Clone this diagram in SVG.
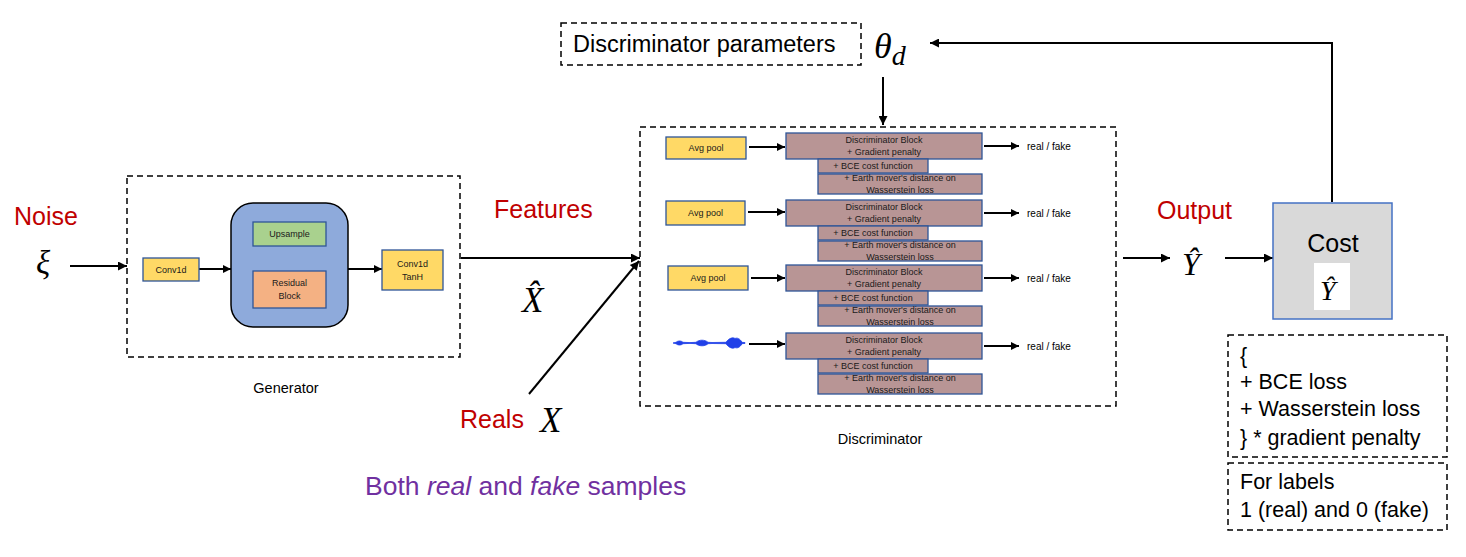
<svg xmlns="http://www.w3.org/2000/svg" width="1466" height="557" viewBox="0 0 1466 557">
<defs>
<marker id="ah" viewBox="0 0 10 10" refX="10" refY="5" markerWidth="11" markerHeight="9" markerUnits="userSpaceOnUse" orient="auto"><path d="M0,0 L10,5 L0,10 z" fill="#000"/></marker>
<marker id="ahs" viewBox="0 0 10 10" refX="10" refY="5" markerWidth="9" markerHeight="8" markerUnits="userSpaceOnUse" orient="auto"><path d="M0,0 L10,5 L0,10 z" fill="#000"/></marker>
<g id="row">
<rect x="786" y="0" width="196" height="26" class="blk"/>
<rect x="818" y="26" width="110" height="14" class="blk"/>
<rect x="818" y="41" width="164" height="20" class="blk"/>
<text x="884" y="9.5" class="sm" text-anchor="middle">Discriminator Block</text>
<text x="884" y="21.5" class="sm" text-anchor="middle">+ Gradient penalty</text>
<text x="873" y="36" class="sm" text-anchor="middle">+ BCE cost function</text>
<text x="900" y="48" class="sm" text-anchor="middle">+ Earth mover's distance on</text>
<text x="900" y="59.5" class="sm" text-anchor="middle">Wasserstein loss</text>
<line x1="984" y1="13" x2="1019" y2="13" class="ar2" marker-end="url(#ahs)"/>
<text x="1027" y="17" class="rf">real / fake</text>
</g>
</defs>
<style>
.dash{fill:none;stroke:#000;stroke-width:1.5;stroke-dasharray:6 4}
.blk{fill:#b89595;stroke:#2f5597;stroke-width:1.3}
.yel{fill:#ffd966;stroke:#2f5597;stroke-width:1.3}
.sm{font-family:"Liberation Sans",Arial,sans-serif;font-size:9px;fill:#1a1a1a}
.rf{font-family:"Liberation Sans",Arial,sans-serif;font-size:10px;fill:#000}
.ar{fill:none;stroke:#000;stroke-width:2}
.ar2{fill:none;stroke:#000;stroke-width:2.2}
.red{font-family:"Liberation Sans",Arial,sans-serif;font-size:25px;fill:#c00000}
.lbl{font-family:"Liberation Sans",Arial,sans-serif;font-size:14.5px;fill:#000}
.txt{font-family:"Liberation Sans",Arial,sans-serif;font-size:21.5px;fill:#000}
.math{font-family:"Liberation Serif","Times New Roman",serif;font-style:italic;fill:#000}
</style>
<rect width="1466" height="557" fill="#fff"/>

<g id="connectors">
<line x1="70" y1="266" x2="127" y2="266" class="ar" marker-end="url(#ah)"/>
<line x1="199" y1="269" x2="231" y2="269" class="ar" marker-end="url(#ahs)"/>
<line x1="348" y1="269" x2="382" y2="269" class="ar" marker-end="url(#ahs)"/>
<line x1="461" y1="258" x2="640" y2="258" class="ar" marker-end="url(#ah)"/>
<line x1="529" y1="394" x2="639" y2="261" class="ar" marker-end="url(#ah)"/>
<line x1="1123" y1="258" x2="1170" y2="258" class="ar" marker-end="url(#ah)"/>
<line x1="1225" y1="258" x2="1273" y2="258" class="ar" marker-end="url(#ah)"/>
<polyline points="1332,202 1332,43 930,43" class="ar" marker-end="url(#ah)"/>
<line x1="883" y1="77" x2="883" y2="125" class="ar" marker-end="url(#ah)"/>
</g>

<g id="noise">
<text x="14" y="225" class="red" font-size="26">Noise</text>
<text x="36" y="274" class="math" font-size="33">ξ</text>
</g>

<g id="generator">
<rect x="127" y="176" width="333" height="181" class="dash"/>
<rect x="231" y="203" width="117" height="124" rx="22" fill="#8eaadb" stroke="#000" stroke-width="1.5"/>
<rect x="143" y="258" width="56" height="23" class="yel"/>
<text x="171" y="273" class="sm" text-anchor="middle">Conv1d</text>
<rect x="253" y="222" width="73" height="24" fill="#a9d18e" stroke="#2f5597" stroke-width="1.3"/>
<text x="289.5" y="237" class="sm" text-anchor="middle">Upsample</text>
<rect x="253" y="271" width="73" height="37" fill="#f4b183" stroke="#2f5597" stroke-width="1.3"/>
<text x="289.5" y="286" class="sm" text-anchor="middle">Residual</text>
<text x="289.5" y="298.5" class="sm" text-anchor="middle">Block</text>
<rect x="382" y="250" width="61" height="40" class="yel"/>
<text x="412.5" y="267" class="sm" text-anchor="middle">Conv1d</text>
<text x="412.5" y="280" class="sm" text-anchor="middle">TanH</text>
<text x="286" y="393" class="lbl" text-anchor="middle">Generator</text>
</g>

<g id="features">
<text x="494" y="218" class="red" font-size="26">Features</text>
<text x="522" y="312" class="math" font-size="35">X&#x302;</text>
</g>

<g id="reals">
<text x="460" y="428" class="red">Reals</text>
<text x="540" y="432" class="math" font-size="35">X</text>
</g>

<g id="both">
<text x="365" y="495" font-family="'Liberation Sans',Arial,sans-serif" font-size="26.5" fill="#7030a0">Both <tspan font-style="italic">real</tspan> and <tspan font-style="italic">fake</tspan> samples</text>
</g>

<g id="params">
<rect x="561" y="23" width="300" height="42" class="dash"/>
<text x="573" y="52" font-family="'Liberation Sans',Arial,sans-serif" font-size="23.5" fill="#000">Discriminator parameters</text>
<text x="874" y="58" class="math" font-size="36">θ<tspan font-size="28" dy="7">d</tspan></text>
</g>

<g id="discriminator">
<rect x="640" y="127" width="476" height="279" class="dash"/>
<rect x="666" y="137" width="80" height="22" class="yel"/>
<text x="706" y="151" class="sm" text-anchor="middle">Avg pool</text>
<line x1="749" y1="147" x2="785" y2="147" class="ar2" marker-end="url(#ahs)"/>
<use href="#row" x="0" y="133"/>
<rect x="666" y="201" width="79" height="24" class="yel"/>
<text x="705.5" y="216" class="sm" text-anchor="middle">Avg pool</text>
<line x1="748" y1="212" x2="785" y2="212" class="ar2" marker-end="url(#ahs)"/>
<use href="#row" x="0" y="200"/>
<rect x="668" y="266" width="80" height="24" class="yel"/>
<text x="708" y="281" class="sm" text-anchor="middle">Avg pool</text>
<line x1="751" y1="278" x2="785" y2="278" class="ar2" marker-end="url(#ahs)"/>
<use href="#row" x="0" y="265"/>
<path d="M673,343 L676,342.3 C678,340.5 681,340.5 683,342.3 L690,342.6 L696,342.3 C699,339.5 705,339.5 708,342.3 L712,342.5 L726,342.3 C729,338 733,337 735,338.5 C737,337.5 740,338.5 742,342.3 L745,342.6 L745,343.4 L742,343.7 C740,347.5 737,348.5 735,347.5 C733,349 729,348 726,343.7 L712,343.5 L708,343.7 C705,346.5 699,346.5 696,343.7 L690,343.4 L683,343.7 C681,345.5 678,345.5 676,343.7 L673,343 z" fill="#2040e8" stroke="#2040e8" stroke-width="0.8"/>
<line x1="749" y1="344" x2="785" y2="344" class="ar2" marker-end="url(#ahs)"/>
<use href="#row" x="0" y="333"/>
<text x="880" y="444" class="lbl" text-anchor="middle">Discriminator</text>
</g>

<g id="output">
<text x="1157" y="219" class="red" font-size="27">Output</text>
<text x="1182" y="275" class="math" font-size="32">Ŷ</text>
</g>

<g id="cost">
<rect x="1273" y="203" width="119" height="116" fill="#d9d9d9" stroke="#4472c4" stroke-width="1.5"/>
<text x="1333" y="252" font-family="'Liberation Sans',Arial,sans-serif" font-size="25" fill="#000" text-anchor="middle">Cost</text>
<rect x="1314" y="263" width="36" height="47" fill="#fff"/>
<text x="1320" y="300" class="math" font-size="28">Ŷ</text>
</g>

<g id="losses">
<rect x="1228" y="335" width="219" height="122" class="dash"/>
<text x="1240" y="363" class="txt">{</text>
<text x="1240" y="389" class="txt">+ BCE loss</text>
<text x="1240" y="416" class="txt">+ Wasserstein loss</text>
<text x="1240" y="445" class="txt">} * gradient penalty</text>
</g>

<g id="labels">
<rect x="1228" y="463" width="219" height="67" class="dash"/>
<text x="1240" y="489" class="txt">For labels</text>
<text x="1240" y="517" class="txt">1 (real) and 0 (fake)</text>
</g>
</svg>
